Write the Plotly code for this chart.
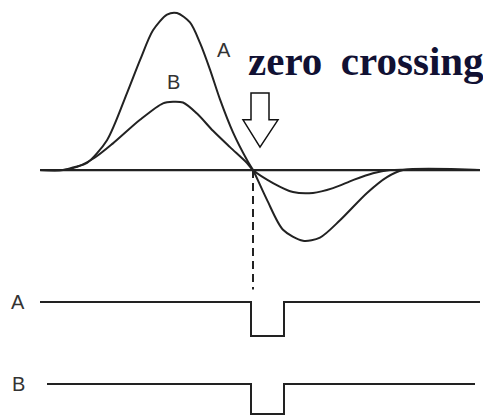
import plotly.graph_objects as go

# time axis (arbitrary units, ~ horizontal position)
t_a = [40, 63, 75, 87, 107, 127, 140, 153, 167, 177, 190, 200, 210, 220, 233, 247, 253,
       267, 283, 303, 320, 340, 367, 387, 403, 480]
sig_a = [0, 0, 0.02, 0.045, 0.19, 0.49, 0.70, 0.89, 0.99, 1.0, 0.94, 0.81, 0.64, 0.45, 0.24, 0.064, 0,
         -0.19, -0.38, -0.45, -0.43, -0.32, -0.146, -0.045, 0, 0]

t_b = [40, 63, 77, 95, 113, 140, 163, 173, 183, 197, 213, 230, 247, 253,
       273, 293, 313, 333, 353, 373, 390, 480]
sig_b = [0, 0, 0.02, 0.08, 0.17, 0.32, 0.425, 0.435, 0.43, 0.36, 0.25, 0.146, 0.045, 0,
         -0.083, -0.14, -0.146, -0.115, -0.064, -0.02, 0, 0]

baseline_t = [40, 480]
baseline_v = [0, 0]

# zero-crossing detector outputs (1 = idle, 0 = pulse)
pulse_a_t = [40, 251, 284, 480]
pulse_a_v = [1, 0, 1, 1]
pulse_b_t = [47, 251, 284, 475]
pulse_b_v = [1, 0, 1, 1]

zero_t = 253
ink = "#222222"

fig = go.Figure()
fig.add_trace(go.Scatter(x=baseline_t, y=baseline_v, mode="lines",
                         line=dict(color=ink, width=2.2)))
fig.add_trace(go.Scatter(x=t_a, y=sig_a, mode="lines", line_shape="spline",
                         line=dict(color=ink, width=2, smoothing=0.8)))
fig.add_trace(go.Scatter(x=t_b, y=sig_b, mode="lines", line_shape="spline",
                         line=dict(color=ink, width=2, smoothing=0.8)))
# dashed marker from the crossing down to the pulse trace
fig.add_trace(go.Scatter(x=[zero_t, zero_t], y=[0, -0.76], mode="lines",
                         line=dict(color=ink, width=2, dash="8px,5px")))
fig.add_trace(go.Scatter(x=pulse_a_t, y=pulse_a_v, mode="lines", line_shape="hv",
                         line=dict(color=ink, width=2), yaxis="y2"))
fig.add_trace(go.Scatter(x=pulse_b_t, y=pulse_b_v, mode="lines", line_shape="hv",
                         line=dict(color=ink, width=2), yaxis="y3"))

# hollow arrow pointing at the zero crossing
fig.add_shape(type="path", xref="x", yref="y",
              path="M 251 0.49 L 269 0.49 L 269 0.32 L 278 0.32 L 260 0.146 L 243 0.32 L 251 0.32 Z",
              line=dict(color="#111111", width=1.5), fillcolor="white")

lab = dict(family="Liberation Sans, Arial", size=20, color="#333333")
fig.add_annotation(x=224, y=0.764, text="A", showarrow=False, font=lab)
fig.add_annotation(x=173, y=0.56, text="B", showarrow=False, font=lab)
fig.add_annotation(x=18, y=1, yref="y2", text="A", showarrow=False, font=lab)
fig.add_annotation(x=18, y=1, yref="y3", text="B", showarrow=False, font=lab)
fig.add_annotation(x=246, y=0.693, text="<b>zero \u2009crossing</b>", showarrow=False,
                   xanchor="left", yanchor="middle",
                   font=dict(family="Liberation Serif, Times New Roman", size=41, color="#111133"))

hidden = dict(visible=False, showgrid=False, zeroline=False, fixedrange=True)
fig.update_layout(
    width=483, height=415, autosize=False,
    margin=dict(l=0, r=0, t=0, b=0),
    paper_bgcolor="white", plot_bgcolor="white",
    showlegend=False,
    xaxis=dict(range=[0, 483], **hidden),
    yaxis=dict(range=[-1.560, 1.083], **hidden),
    yaxis2=dict(range=[-2.324, 9.882], overlaying="y", **hidden),
    yaxis3=dict(range=[-0.033, 13.8], overlaying="y", **hidden),
)
fig.write_html("out.html", config=dict(displayModeBar=False),
               post_script="document.body.style.margin='0';")
